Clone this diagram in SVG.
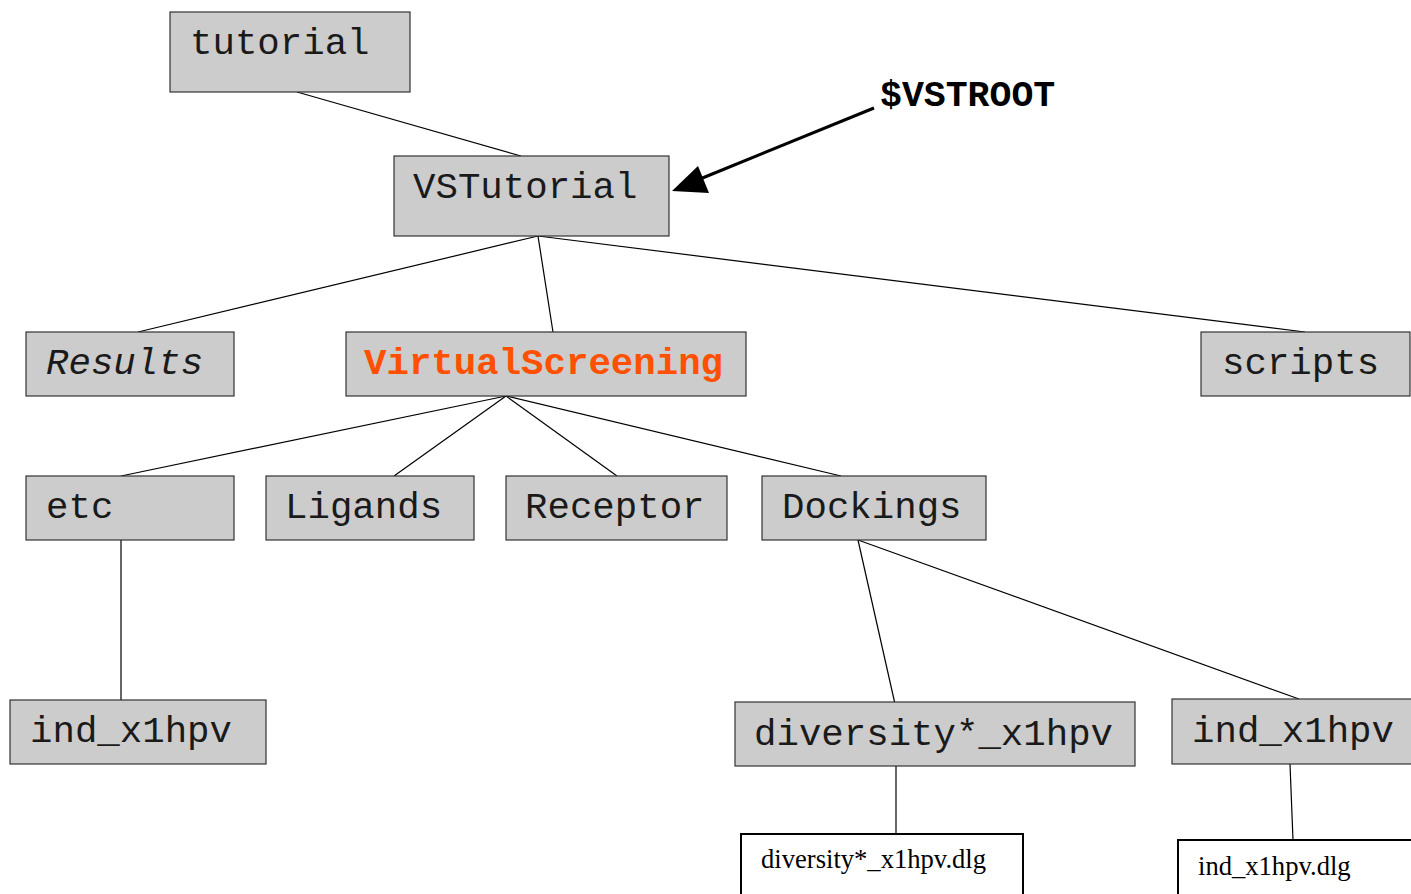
<svg xmlns="http://www.w3.org/2000/svg" width="1411" height="894" viewBox="0 0 1411 894">
  <defs>
    <style>
      .dir { fill: #cccccc; stroke: #333333; stroke-width: 1.2; }
      .file { fill: #ffffff; stroke: #000000; stroke-width: 2; }
      .lbl { font-family: "Liberation Mono", "Courier New", monospace; font-size: 37.4px; fill: #1a1a1a; }
      .var { font-family: "Liberation Mono", "Courier New", monospace; font-size: 36.5px; font-weight: bold; fill: #000000; }
      .hot { font-weight: bold; fill: #ff5000; }
      .flbl { font-family: "Liberation Serif", "Times New Roman", serif; font-size: 26.6px; fill: #000000; }
      .link { stroke: #000000; stroke-width: 1.2; fill: none; }
    </style>
  </defs>
  <rect width="1411" height="894" fill="#ffffff"/>

  <g id="connectors">
    <line class="link" x1="297" y1="92" x2="521" y2="156"/>
    <line class="link" x1="538" y1="236" x2="138" y2="332"/>
    <line class="link" x1="538" y1="236" x2="553" y2="332"/>
    <line class="link" x1="538" y1="236" x2="1305" y2="332"/>
    <line class="link" x1="506" y1="396" x2="121" y2="476"/>
    <line class="link" x1="506" y1="396" x2="394" y2="476"/>
    <line class="link" x1="506" y1="396" x2="617" y2="476"/>
    <line class="link" x1="506" y1="396" x2="841" y2="476"/>
    <line class="link" x1="121" y1="540" x2="121" y2="700"/>
    <line class="link" x1="858" y1="540" x2="895" y2="704"/>
    <line class="link" x1="858" y1="540" x2="1299" y2="699"/>
    <line class="link" x1="896" y1="766" x2="896" y2="833"/>
    <line class="link" x1="1290" y1="764" x2="1293" y2="840"/>
    <!-- pointer from the environment variable to its directory -->
    <line x1="874" y1="108" x2="700" y2="179" stroke="#000" stroke-width="3"/>
    <polygon points="672,191 698,166 709,193" fill="#000"/>
  </g>

  <g id="tutorial">
    <rect class="dir" x="170" y="12" width="240" height="80"/>
    <text class="lbl" x="190" y="54">tutorial</text>
  </g>
  <g id="vstutorial">
    <rect class="dir" x="394" y="156" width="275" height="80"/>
    <text class="lbl" x="413" y="198">VSTutorial</text>
  </g>
  <g id="vstroot">
    <text class="var" x="880" y="106">$VSTROOT</text>
  </g>
  <g id="results">
    <rect class="dir" x="26" y="332" width="208" height="64"/>
    <text class="lbl" x="46" y="374" font-style="italic">Results</text>
  </g>
  <g id="virtualscreening">
    <rect class="dir" x="346" y="332" width="400" height="64"/>
    <text class="lbl hot" x="364" y="374">VirtualScreening</text>
  </g>
  <g id="scripts">
    <rect class="dir" x="1201" y="332" width="209" height="64"/>
    <text class="lbl" x="1222" y="374">scripts</text>
  </g>
  <g id="etc">
    <rect class="dir" x="26" y="476" width="208" height="64"/>
    <text class="lbl" x="46" y="518">etc</text>
  </g>
  <g id="ligands">
    <rect class="dir" x="266" y="476" width="208" height="64"/>
    <text class="lbl" x="285" y="518">Ligands</text>
  </g>
  <g id="receptor">
    <rect class="dir" x="506" y="476" width="221" height="64"/>
    <text class="lbl" x="525" y="518">Receptor</text>
  </g>
  <g id="dockings">
    <rect class="dir" x="762" y="476" width="224" height="64"/>
    <text class="lbl" x="782" y="518">Dockings</text>
  </g>
  <g id="etc-ind-x1hpv">
    <rect class="dir" x="10" y="700" width="256" height="64"/>
    <text class="lbl" x="30" y="742">ind_x1hpv</text>
  </g>
  <g id="diversity-x1hpv">
    <rect class="dir" x="735" y="702" width="400" height="64"/>
    <text class="lbl" x="754" y="745">diversity*_x1hpv</text>
  </g>
  <g id="dockings-ind-x1hpv">
    <rect class="dir" x="1172" y="699" width="245" height="65"/>
    <text class="lbl" x="1192" y="742">ind_x1hpv</text>
  </g>
  <g id="diversity-dlg">
    <rect class="file" x="741" y="834" width="282" height="62"/>
    <text class="flbl" x="761" y="868">diversity*_x1hpv.dlg</text>
  </g>
  <g id="ind-dlg">
    <rect class="file" x="1178" y="840" width="240" height="60"/>
    <text class="flbl" x="1198" y="875">ind_x1hpv.dlg</text>
  </g>
</svg>
